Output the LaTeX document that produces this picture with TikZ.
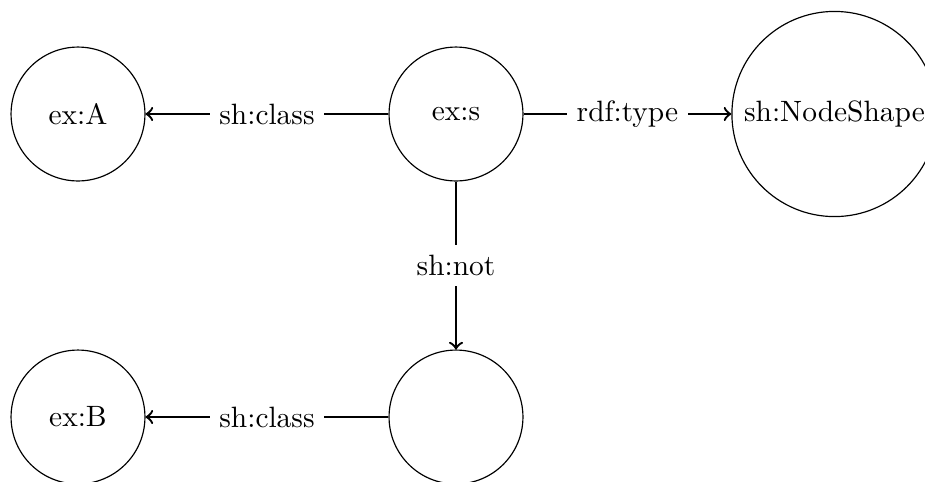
\documentclass[tikz,border=0pt]{standalone}
\usetikzlibrary{arrows}
\begin{document}
\begin{tikzpicture}[x=0.34pt,y=-0.34pt,
  res/.style={circle,draw,minimum size=1.6cm,inner sep=3.33pt,font=\normalsize},
  link/.style={thick,->},
  lbl/.style={midway,fill=white,inner sep=3.33pt}]
  \useasboundingbox (0,0) rectangle (925,481);
  \node[res] (A) at (78,114) {ex:A};
  \node[res] (s) at (456,114) {ex:s};
  \node[res] (ns) at (834.5,114) {sh:NodeShape};
  \node[res] (b) at (456,417) {};
  \node[res] (B) at (78,417) {ex:B};
  \draw[link] (s) -- node[lbl] {sh:class} (A);
  \draw[link] (s) -- node[lbl] {rdf:type} (ns);
  \draw[link] (s) -- node[lbl] {sh:not} (b);
  \draw[link] (b) -- node[lbl] {sh:class} (B);
\end{tikzpicture}
\end{document}
